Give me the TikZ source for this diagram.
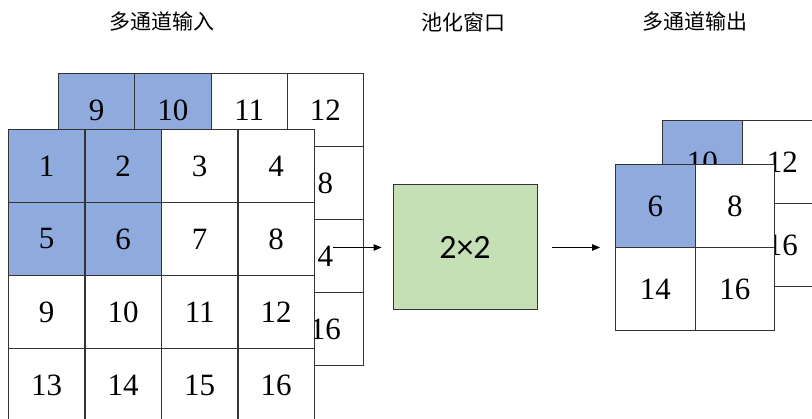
\documentclass[tikz,border=0pt]{standalone}
\usepackage{fontspec}
\setmainfont{Liberation Serif}
\newfontfamily\cjkfont{Noto Sans CJK SC}
\newfontfamily\calfont{Carlito}
\usepackage{xcolor}
\usetikzlibrary{arrows.meta}

\definecolor{cellblue}{HTML}{8FAADC}
\definecolor{wingreen}{HTML}{C5E0B4}
\definecolor{gridline}{HTML}{333333}

\tikzset{
  incell/.style={draw=gridline, line width=1pt, fill=white, inner sep=0pt, anchor=north west,
    minimum width=76.4pt, minimum height=73pt, font=\fontsize{31}{31}\selectfont},
  outcell/.style={incell, minimum width=79.6pt, minimum height=83pt},
  numtext/.style={inner sep=0pt, font=\fontsize{31}{31}\selectfont},
  title/.style={font=\cjkfont\fontsize{21}{21}\selectfont},
}

\begin{document}
\begin{tikzpicture}[x=1pt, y=-1pt, >={Triangle[length=8pt,width=6.5pt]}]

\useasboundingbox (0,0) rectangle (812,419);
\clip (0,0) rectangle (812,419);

% titles
\node[title] (tin)  at (162,22) {多通道输入};
\node[title] (twin) at (463,22) {池化窗口};
\node[title] (tout) at (695,22) {多通道输出};

% input, back channel
\foreach \r in {0,...,3}{
  \foreach \c in {0,...,3}{
    \ifnum\r=0 \ifnum\c<2 \def\cellfill{cellblue}\else\def\cellfill{white}\fi\else\def\cellfill{white}\fi
    \node[incell, fill=\cellfill] (bk-\r-\c) at (58+76.25*\c, 73+73*\r) {};
  }
}
\foreach \r/\c/\t in {0/0/9, 0/1/10, 0/2/11, 0/3/12, 1/3/8, 2/3/4, 3/3/16}
  \node[numtext] (lb-\r-\c) at (bk-\r-\c) {\t};

% input, front channel
\foreach \r in {0,...,3}{
  \foreach \c in {0,...,3}{
    \ifnum\r<2 \ifnum\c<2 \def\cellfill{cellblue}\else\def\cellfill{white}\fi\else\def\cellfill{white}\fi
    \pgfmathtruncatemacro\num{4*\r+\c+1}
    \node[incell, fill=\cellfill] (fr-\r-\c) at (8+76.5*\c, 129+73*\r) {\num};
  }
}

% pooling window
\node[draw=gridline, line width=1pt, fill=wingreen, minimum width=144pt, minimum height=125pt,
  font=\calfont\fontsize{34}{34}\selectfont] (win) at (465,247.5) {2×2};

% output, back channel
\foreach \r in {0,1}{
  \foreach \c in {0,1}{
    \ifnum\r=0 \ifnum\c=0 \def\cellfill{cellblue}\else\def\cellfill{white}\fi\else\def\cellfill{white}\fi
    \node[outcell, fill=\cellfill] (ob-\r-\c) at (662+80*\c, 120+83*\r) {};
  }
}
\foreach \r/\c/\t in {0/0/10, 0/1/12, 1/1/16}
  \node[numtext] (ol-\r-\c) at (ob-\r-\c) {\t};

% output, front channel
\foreach \r/\c/\t in {0/0/6, 0/1/8, 1/0/14, 1/1/16}{
  \ifnum\r=0 \ifnum\c=0 \def\cellfill{cellblue}\else\def\cellfill{white}\fi\else\def\cellfill{white}\fi
  \node[outcell, fill=\cellfill] (of-\r-\c) at (615+79.5*\c, 164+83*\r) {\t};
}

% arrows
\coordinate (arrin) at (lb-2-3.east |- win.west);
\draw[->, line width=1pt, shorten >=11pt] (arrin) -- (win.west);
\draw[->, line width=1pt, shorten <=14pt, shorten >=15pt] (win.east) -- (win.east -| of-0-0.west);

\end{tikzpicture}
\end{document}
